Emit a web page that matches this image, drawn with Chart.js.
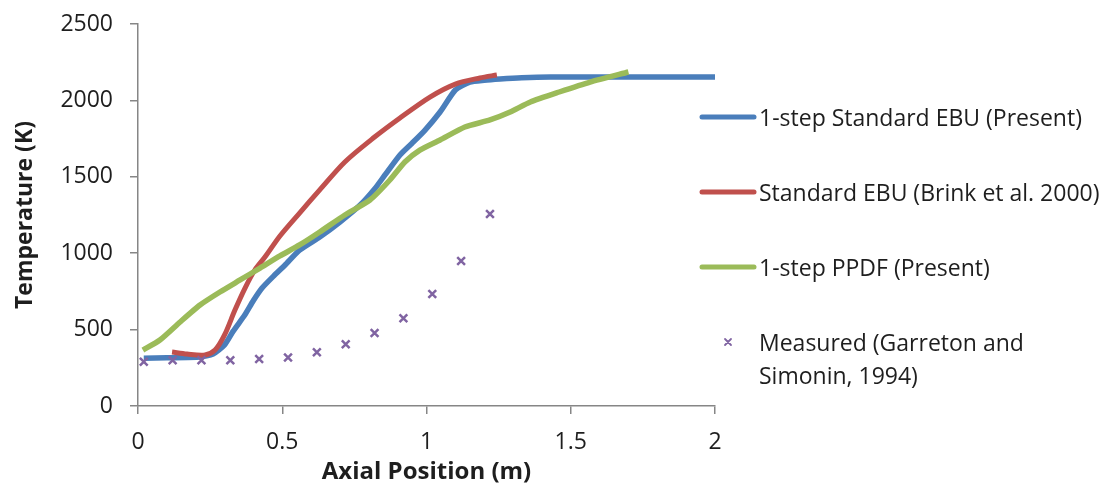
<!DOCTYPE html>
<html>
<head>
<meta charset="utf-8">
<script src="https://cdn.jsdelivr.net/npm/chart.js@4/dist/chart.umd.min.js"></script>
<style>
  html, body { margin: 0; padding: 0; background: #fff; }
  #wrap { position: relative; width: 1111px; height: 487px; }
</style>
</head>
<body>
<div id="wrap"><canvas id="c" width="1111" height="487"></canvas></div>
<script>
// Axial temperature profiles: two present 1-step models, a reference EBU run, and measurements
const ebuX = [0.02, 0.10, 0.215, 0.26, 0.30, 0.33, 0.37, 0.40, 0.43, 0.47, 0.51, 0.56, 0.63, 0.70, 0.77, 0.82, 0.856, 0.908, 0.95, 0.995, 1.047, 1.10, 1.15, 1.20, 1.255, 1.33, 1.43, 1.60, 1.80, 2.00];
const ebuT = [312, 315, 320, 340, 400, 490, 595, 690, 772, 850, 923, 1020, 1106, 1204, 1315, 1420, 1512, 1643, 1720, 1806, 1924, 2068, 2120, 2132, 2140, 2148, 2153, 2153, 2153, 2153];

const brinkX = [0.118, 0.17, 0.232, 0.267, 0.30, 0.336, 0.371, 0.405, 0.44, 0.492, 0.56, 0.63, 0.717, 0.82, 0.908, 1.012, 1.10, 1.185, 1.244];
const brinkT = [353, 340, 334, 366, 465, 628, 772, 890, 975, 1113, 1263, 1414, 1597, 1760, 1885, 2022, 2107, 2147, 2166];

const ppdfX = [0.017, 0.076, 0.146, 0.215, 0.284, 0.354, 0.423, 0.492, 0.56, 0.63, 0.717, 0.804, 0.873, 0.925, 0.977, 1.047, 1.133, 1.22, 1.29, 1.36, 1.46, 1.567, 1.70];
const ppdfT = [366, 432, 550, 661, 746, 825, 903, 982, 1054, 1139, 1250, 1348, 1479, 1597, 1675, 1741, 1826, 1872, 1924, 1990, 2055, 2120, 2186];

const measX = [0.02, 0.12, 0.22, 0.32, 0.42, 0.52, 0.62, 0.72, 0.82, 0.92, 1.02, 1.12, 1.22];
const measT = [290, 300, 300, 300, 307, 318, 352, 404, 478, 574, 733, 949, 1256];

const xTicks = [0, 0.5, 1, 1.5, 2];
const yTicks = [0, 500, 1000, 1500, 2000, 2500];

const seriesNames = [
  '1-step Standard EBU (Present)',
  'Standard EBU (Brink et al. 2000)',
  '1-step PPDF (Present)',
  ['Measured (Garreton and', 'Simonin, 1994)']
];

const pts = (xs, ys) => xs.map((x, i) => ({ x: x, y: ys[i] }));

const FONT = '"Open Sans", "DejaVu Sans", sans-serif';
const AXIS_GREY = '#868686';
const TEXT = '#1e1e1e';

// Legend drawn beside the plot area, one entry per dataset
const sideLegend = {
  id: 'sideLegend',
  afterDraw(chart) {
    const ctx = chart.ctx;
    const x0 = 700, lineLen = 56, tx = 759;
    const rows = [117, 192, 267, 342];
    ctx.save();
    ctx.font = '23px ' + FONT;
    ctx.fillStyle = TEXT;
    ctx.textBaseline = 'middle';
    chart.data.datasets.forEach((ds, i) => {
      const y = rows[i];
      if (ds.showLine !== false) {
        ctx.strokeStyle = ds.borderColor;
        ctx.lineWidth = 5;
        ctx.lineCap = 'round';
        ctx.beginPath();
        ctx.moveTo(x0 + 2, y);
        ctx.lineTo(x0 + lineLen - 2, y);
        ctx.stroke();
      } else {
        const cx = x0 + 28, r = 3;
        ctx.strokeStyle = ds.pointBorderColor;
        ctx.lineWidth = 1.8;
        ctx.beginPath();
        ctx.moveTo(cx - r, y - r); ctx.lineTo(cx + r, y + r);
        ctx.moveTo(cx + r, y - r); ctx.lineTo(cx - r, y + r);
        ctx.stroke();
      }
      const lab = Array.isArray(ds.label) ? ds.label : [ds.label];
      ctx.fillStyle = TEXT;
      lab.forEach((t, k) => ctx.fillText(t, tx, y + 2 + k * 33));
    });
    ctx.restore();
  }
};

new Chart(document.getElementById('c'), {
  type: 'scatter',
  data: {
    datasets: [
      {
        label: seriesNames[0],
        data: pts(ebuX, ebuT),
        showLine: true,
        borderColor: '#4A7EBB',
        backgroundColor: '#4A7EBB',
        borderWidth: 5.5,
        pointRadius: 0,
        tension: 0.2,
        order: 3
      },
      {
        label: seriesNames[1],
        data: pts(brinkX, brinkT),
        showLine: true,
        borderColor: '#C0504D',
        backgroundColor: '#C0504D',
        borderWidth: 5,
        pointRadius: 0,
        tension: 0.3,
        order: 2
      },
      {
        label: seriesNames[2],
        data: pts(ppdfX, ppdfT),
        showLine: true,
        borderColor: '#9BBB59',
        backgroundColor: '#9BBB59',
        borderWidth: 5.5,
        pointRadius: 0,
        tension: 0.2,
        order: 1
      },
      {
        label: seriesNames[3],
        data: pts(measX, measT),
        showLine: false,
        pointStyle: 'crossRot',
        pointRadius: 5.5,
        pointBorderWidth: 2.5,
        pointBorderColor: '#8064A2',
        pointBackgroundColor: '#8064A2',
        borderColor: '#8064A2',
        order: 0
      }
    ]
  },
  options: {
    responsive: false,
    animation: false,
    events: [],
    layout: { padding: { top: 0, right: 396, bottom: 0, left: 12 } },
    plugins: {
      legend: { display: false },
      tooltip: { enabled: false }
    },
    scales: {
      x: {
        type: 'linear',
        min: 0, max: 2,
        afterBuildTicks: s => { s.ticks = xTicks.map(v => ({ value: v })); },
        ticks: { color: TEXT, font: { family: FONT, size: 23 }, padding: 15, callback: v => String(v) },
        grid: { display: true, drawOnChartArea: false, drawTicks: true, tickLength: 8, color: AXIS_GREY, lineWidth: 1.5 },
        border: { display: true, color: AXIS_GREY, width: 1.5 },
        title: { display: true, text: 'Axial Position (m)', color: TEXT, font: { family: FONT, size: 24, weight: 'bold' }, padding: { top: 0, bottom: 0 } },
        afterFit: s => { s.height = 487 - 406; }
      },
      y: {
        type: 'linear',
        min: 0, max: 2500,
        afterBuildTicks: s => { s.ticks = yTicks.map(v => ({ value: v })); },
        ticks: { color: TEXT, font: { family: FONT, size: 23 }, padding: 17, callback: v => String(v) },
        grid: { display: true, drawOnChartArea: false, drawTicks: true, tickLength: 8, color: AXIS_GREY, lineWidth: 1.5 },
        border: { display: true, color: AXIS_GREY, width: 1.5 },
        title: { display: true, text: 'Temperature (K)', color: TEXT, font: { family: FONT, size: 23, weight: 'bold' }, padding: { top: 0, bottom: 6 } },
        afterFit: s => { s.width = 138 - 12; s.paddingTop = 24; s.paddingBottom = 12; }
      }
    }
  },
  plugins: [sideLegend]
});
</script>
</body>
</html>
